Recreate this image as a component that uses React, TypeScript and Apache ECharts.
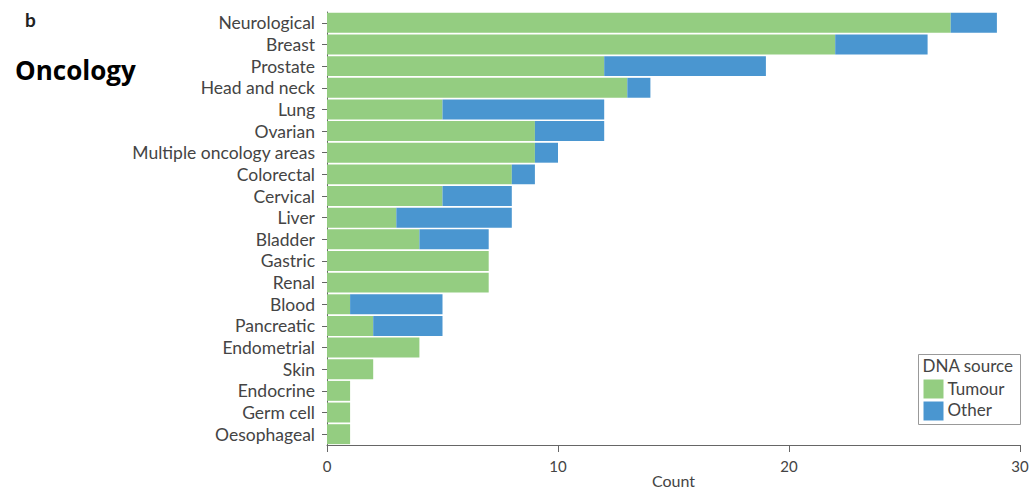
import React, { useEffect, useRef } from "react";
import * as echarts from "echarts";

const categories = [
  "Neurological", "Breast", "Prostate", "Head and neck", "Lung", "Ovarian",
  "Multiple oncology areas", "Colorectal", "Cervical", "Liver", "Bladder",
  "Gastric", "Renal", "Blood", "Pancreatic", "Endometrial", "Skin",
  "Endocrine", "Germ cell", "Oesophageal",
];
const tumour = [27, 22, 12, 13, 5, 9, 9, 8, 5, 3, 4, 7, 7, 1, 2, 4, 2, 1, 1, 1];
const other = [2, 4, 7, 1, 7, 3, 1, 1, 3, 5, 3, 0, 0, 4, 3, 0, 0, 0, 0, 0];
const xTicks = [0, 10, 20, 30];

const GREEN = "#94cd81";
const BLUE = "#4a96d0";
const FONT = "Lato";

export default function App() {
  const ref = useRef<HTMLDivElement>(null);
  useEffect(() => {
    if (!ref.current) return;
    const chart = echarts.init(ref.current, null, { renderer: "svg" });
    chart.setOption({
      animation: false,
      grid: { left: 327, right: 12, top: 12, bottom: 46, containLabel: false, outerBoundsMode: "none" },
      xAxis: {
        type: "value",
        min: xTicks[0],
        max: xTicks[xTicks.length - 1],
        interval: 10,
        name: "Count",
        nameLocation: "middle",
        nameGap: 27,
        nameMoveOverlap: false,
        nameTextStyle: { fontFamily: FONT, fontSize: 16, color: "#444" },
        axisLine: { show: true, lineStyle: { color: "#666", width: 1 } },
        axisTick: { show: true, length: 7, lineStyle: { color: "#666" } },
        axisLabel: { fontFamily: FONT, fontSize: 15, color: "#444", margin: 13 },
        splitLine: { show: false },
      },
      yAxis: {
        type: "category",
        data: categories,
        inverse: true,
        axisLine: { show: true, lineStyle: { color: "#666", width: 1 } },
        axisTick: { show: true, length: 5, alignWithLabel: true, interval: 0, lineStyle: { color: "#666" } },
        axisLabel: { fontFamily: FONT, fontSize: 17.5, color: "#444", margin: 12, interval: 0 },
      },
      series: [
        {
          name: "Tumour",
          type: "bar",
          stack: "total",
          data: tumour,
          barCategoryGap: "8%",
          itemStyle: { color: GREEN },
        },
        {
          name: "Other",
          type: "bar",
          stack: "total",
          data: other,
          barCategoryGap: "8%",
          itemStyle: { color: BLUE },
        },
      ],
      graphic: [
        {
          type: "text",
          left: 25,
          top: 10,
          style: { text: "b", fontFamily: FONT, fontWeight: "bold", fontSize: 19, fill: "#222" },
        },
        {
          type: "text",
          left: 15,
          top: 57,
          style: { text: "Oncology", fontFamily: "Open Sans", fontWeight: "bold", fontSize: 26, fill: "#000" },
        },
        {
          type: "group",
          left: 918,
          top: 354,
          children: [
            { type: "rect", shape: { x: 0, y: 0, width: 102, height: 70 }, style: { fill: "#fff", stroke: "#999", lineWidth: 1 } },
            { type: "text", x: 4, y: 2, style: { text: "DNA source", fontFamily: FONT, fontSize: 17, fill: "#444" } },
            { type: "rect", shape: { x: 5, y: 25, width: 20, height: 19 }, style: { fill: GREEN } },
            { type: "text", x: 29, y: 25, style: { text: "Tumour", fontFamily: FONT, fontSize: 17, fill: "#444" } },
            { type: "rect", shape: { x: 5, y: 47, width: 20, height: 19 }, style: { fill: BLUE } },
            { type: "text", x: 29, y: 46, style: { text: "Other", fontFamily: FONT, fontSize: 17, fill: "#444" } },
          ],
        },
      ],
    });
    return () => chart.dispose();
  }, []);
  return <div ref={ref} style={{ width: 1032, height: 491, position: "absolute", left: 0, top: 0 }} />;
}
